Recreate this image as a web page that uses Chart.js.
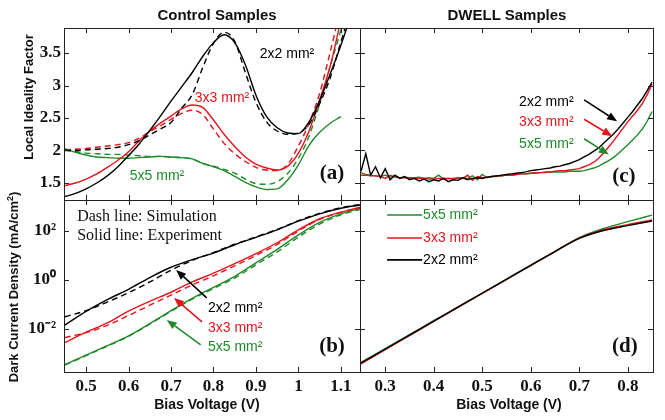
<!DOCTYPE html>
<html>
<head>
<meta charset="utf-8">
<script src="https://cdn.jsdelivr.net/npm/chart.js@4.4.0/dist/chart.umd.min.js"></script>
<style>
  body { margin: 0; background: #fff; }
  #fig { position: relative; width: 665px; height: 420px; overflow: hidden; font-family: "Liberation Sans", Arial, sans-serif; }
  #fig canvas { position: absolute; }
  .lbl { position: absolute; font-weight: bold; color: #111; white-space: nowrap; transform: translate(-50%, -50%); }
  .vert { transform: translate(-50%, -50%) rotate(-90deg); }
</style>
</head>
<body>
<div id="fig">
  <canvas id="chartA" width="362" height="202" style="left:0;top:0"></canvas>
  <canvas id="chartC" width="300" height="202" style="left:358px;top:0"></canvas>
  <canvas id="chartB" width="362" height="222" style="left:0;top:198px"></canvas>
  <canvas id="chartD" width="300" height="222" style="left:358px;top:198px"></canvas>
  <div class="lbl" style="left:217px;top:14px;font-size:15px">Control Samples</div>
  <div class="lbl" style="left:507px;top:14px;font-size:15px">DWELL Samples</div>
  <div class="lbl vert" style="left:28px;top:97px;font-size:13px">Local Ideality Factor</div>
  <div class="lbl vert" style="left:13px;top:287px;font-size:13px">Dark Current Density (mA/cm<sup style="font-size:9px">2</sup>)</div>
  <div class="lbl" style="left:207px;top:404px;font-size:14px">Bias Voltage (V)</div>
  <div class="lbl" style="left:509px;top:404px;font-size:14px">Bias Voltage (V)</div>
</div>
<script>
// ---------- tick values ----------
const controlVoltTicks = [0.5, 0.6, 0.7, 0.8, 0.9, 1.0, 1.1];
const dwellVoltTicks = [0.3, 0.4, 0.5, 0.6, 0.7, 0.8];
const idealityTicks = [1.5, 2, 2.5, 3, 3.5];
const currentTicks = [1e-2, 1, 1e2];

// ---------- (a) local ideality factor, control samples ----------
const aVolt = [0.45, 0.475, 0.5, 0.525, 0.55, 0.575, 0.6, 0.625, 0.65, 0.675, 0.7, 0.725, 0.75, 0.775,
               0.8, 0.825, 0.85, 0.875, 0.9, 0.925, 0.95, 0.975, 1.0, 1.025, 1.05, 1.075, 1.1, 1.125];
const a2x2Exp = [1.29, 1.34, 1.41, 1.50, 1.61, 1.75, 1.92, 2.10, 2.31, 2.53, 2.76, 2.98, 3.20, 3.45,
                 3.66, 3.78, 3.66, 3.32, 2.85, 2.52, 2.35, 2.27, 2.26, 2.44, 2.77, 3.18, 3.62, 4.10];
const a2x2Sim = [2.00, 2.00, 2.01, 2.02, 2.03, 2.05, 2.09, 2.15, 2.24, 2.33, 2.43, 2.65, 2.86, 3.28,
                 3.65, 3.82, 3.68, 3.20, 2.74, 2.44, 2.30, 2.25, 2.27, 2.40, 2.72, 3.12, 3.67, 4.20];
const a3x3Exp = [1.46, 1.50, 1.56, 1.64, 1.74, 1.85, 1.98, 2.15, 2.30, 2.42, 2.53, 2.64, 2.70, 2.66,
                 2.47, 2.25, 2.06, 1.90, 1.79, 1.73, 1.70, 1.76, 1.96, 2.30, 2.78, 3.30, 4.00, 4.60];
const a3x3Sim = [2.01, 2.02, 2.03, 2.05, 2.07, 2.09, 2.12, 2.19, 2.29, 2.38, 2.48, 2.57, 2.62, 2.55,
                 2.33, 2.11, 1.95, 1.83, 1.74, 1.70, 1.69, 1.79, 2.07, 2.42, 2.88, 3.52, 4.20, 4.80];
const a5x5Exp = [2.03, 1.97, 1.93, 1.90, 1.89, 1.88, 1.88, 1.89, 1.90, 1.91, 1.90, 1.89, 1.87, 1.80,
                 1.75, 1.69, 1.60, 1.51, 1.44, 1.40, 1.41, 1.55, 1.78, 2.08, 2.28, 2.42, 2.52, null];
const a5x5Sim = [2.01, 1.98, 1.96, 1.95, 1.94, 1.94, 1.93, 1.92, 1.91, 1.91, 1.90, 1.89, 1.87, 1.80,
                 1.76, 1.71, 1.65, 1.56, 1.49, 1.48, 1.52, 1.65, 1.88, 2.22, 2.72, 3.30, 3.85, 4.40];

// ---------- (b) dark current density (mA/cm2), control samples ----------
const bVolt = [0.45, 0.5, 0.55, 0.6, 0.65, 0.7, 0.75, 0.8, 0.85, 0.9, 0.95, 1.0, 1.05, 1.1, 1.145];
const b2x2Exp = [0.0145, 0.0525, 0.158, 0.417, 1.26, 3.31, 6.76, 12.6, 27.5, 55.0, 112, 251, 501, 851, 1148];
const b2x2Sim = [0.0316, 0.0562, 0.126, 0.302, 0.832, 2.51, 6.31, 13.2, 28.8, 57.5, 117, 263, 525, 891, 1202];
const b3x3Exp = [0.00275, 0.00741, 0.0178, 0.0537, 0.135, 0.316, 0.832, 1.91, 4.68, 12.0, 33.1, 112, 316, 589, 933];
const b3x3Sim = [0.00447, 0.00708, 0.0141, 0.0355, 0.0933, 0.240, 0.631, 1.48, 3.80, 10.0, 28.2, 100, 295, 575, 891];
const b5x5Exp = [0.000355, 0.000851, 0.00209, 0.00525, 0.0166, 0.0562, 0.178, 0.501, 1.41, 5.01, 17.8, 69.2, 224, 501, 832];
const b5x5Sim = [0.000339, 0.000813, 0.00200, 0.00501, 0.0158, 0.0525, 0.166, 0.447, 1.20, 4.17, 14.1, 56.2, 191, 457, 759];

// ---------- (c) local ideality factor, DWELL samples ----------
const cVolt = [0.25, 0.26, 0.27, 0.28, 0.29, 0.30, 0.31, 0.32, 0.33, 0.34,
               0.35, 0.36, 0.37, 0.38, 0.39, 0.40, 0.41, 0.42, 0.43, 0.44,
               0.45, 0.46, 0.47, 0.48, 0.49, 0.50, 0.51, 0.52, 0.53, 0.54,
               0.55, 0.56, 0.57, 0.58, 0.59, 0.60, 0.61, 0.62, 0.63, 0.64,
               0.65, 0.66, 0.67, 0.68, 0.69, 0.70, 0.71, 0.72, 0.73, 0.74,
               0.75, 0.76, 0.77, 0.78, 0.79, 0.80, 0.81, 0.82, 0.83, 0.84, 0.85];
const c2x2 = [1.68, 1.95, 1.62, 1.75, 1.58, 1.72, 1.55, 1.62, 1.57, 1.60,
              1.55, 1.57, 1.53, 1.56, 1.52, 1.55, 1.53, 1.57, 1.52, 1.55,
              1.54, 1.58, 1.55, 1.57, 1.58, 1.57, 1.59, 1.60, 1.61, 1.62,
              1.63, 1.64, 1.65, 1.66, 1.67, 1.69, 1.70, 1.71, 1.72, 1.73,
              1.75, 1.76, 1.78, 1.80, 1.83, 1.86, 1.90, 1.94, 1.99, 2.04,
              2.11, 2.18, 2.25, 2.33, 2.42, 2.51, 2.60, 2.70, 2.80, 2.92, 3.05];
const c3x3 = [1.62, 1.62, 1.61, 1.61, 1.60, 1.57, 1.62, 1.59, 1.58, 1.58,
              1.57, 1.57, 1.57, 1.57, 1.56, 1.56, 1.57, 1.57, 1.57, 1.57,
              1.58, 1.57, 1.62, 1.54, 1.60, 1.58, 1.59, 1.60, 1.61, 1.61,
              1.62, 1.62, 1.63, 1.64, 1.64, 1.65, 1.66, 1.66, 1.67, 1.67,
              1.68, 1.69, 1.69, 1.70, 1.71, 1.72, 1.75, 1.78, 1.82, 1.88,
              1.96, 2.05, 2.14, 2.24, 2.34, 2.44, 2.53, 2.62, 2.72, 2.86, 3.02];
const c5x5 = [1.66, 1.63, 1.62, 1.61, 1.60, 1.62, 1.59, 1.61, 1.58, 1.59,
              1.58, 1.58, 1.59, 1.57, 1.58, 1.57, 1.62, 1.56, 1.57, 1.56,
              1.57, 1.58, 1.57, 1.61, 1.55, 1.63, 1.58, 1.60, 1.60, 1.61,
              1.62, 1.62, 1.63, 1.64, 1.64, 1.65, 1.65, 1.66, 1.66, 1.67,
              1.67, 1.67, 1.67, 1.68, 1.68, 1.68, 1.69, 1.71, 1.73, 1.76,
              1.80, 1.84, 1.89, 1.95, 2.02, 2.09, 2.16, 2.24, 2.33, 2.45, 2.60];

// ---------- (d) dark current density (mA/cm2), DWELL samples ----------
const dVolt = [0.25, 0.3, 0.35, 0.4, 0.45, 0.5, 0.55, 0.6, 0.65, 0.7, 0.75, 0.8, 0.85];
const d2x2 = [4.07e-4, 1.51e-3, 5.62e-3, 2.09e-2, 7.76e-2, 0.288, 1.07, 3.98, 14.5, 50.1, 105, 166, 257];
const d3x3 = [3.80e-4, 1.45e-3, 5.37e-3, 2.04e-2, 7.59e-2, 0.282, 1.05, 3.89, 14.5, 51.3, 112, 182, 282];
const d5x5 = [4.37e-4, 1.58e-3, 5.89e-3, 2.19e-2, 7.94e-2, 0.295, 1.10, 4.07, 14.8, 53.7, 126, 240, 447];

const SANS = '"Liberation Sans", Arial, sans-serif';
const SERIF = '"Liberation Serif", "Times New Roman", serif';
const BLACK = '#000000', RED = '#e3141b', GREEN = '#1f8a2a';
const tickFont = { family: SERIF, weight: 'bold', size: 17 };
const supers = { '-': '\u207B', '0': '\u2070', '1': '\u00B9', '2': '\u00B2', '3': '\u00B3', '4': '\u2074' };

function series(label, xs, ys, color, dashed, smooth) {
    return {
        label: label,
        data: xs.map(function(v, i) { return { x: v, y: ys[i] }; }),
        borderColor: color,
        borderWidth: 1.4,
        borderDash: dashed ? [6, 4] : [],
        pointRadius: 0,
        cubicInterpolationMode: smooth ? 'monotone' : 'default',
        tension: 0,
        fill: false
    };
}

function drawArrow(ctx, x0, y0, x1, y1, color) {
    const ang = Math.atan2(y1 - y0, x1 - x0);
    const head = 10, half = 4;
    ctx.strokeStyle = color;
    ctx.fillStyle = color;
    ctx.lineWidth = 1.6;
    ctx.beginPath();
    ctx.moveTo(x0, y0);
    ctx.lineTo(x1 - head * Math.cos(ang), y1 - head * Math.sin(ang));
    ctx.stroke();
    ctx.beginPath();
    ctx.moveTo(x1, y1);
    ctx.lineTo(x1 - head * Math.cos(ang) + half * Math.sin(ang), y1 - head * Math.sin(ang) - half * Math.cos(ang));
    ctx.lineTo(x1 - head * Math.cos(ang) - half * Math.sin(ang), y1 - head * Math.sin(ang) + half * Math.cos(ang));
    ctx.closePath();
    ctx.fill();
}

// box around the plot area with inward tick marks on all four sides
const framePlugin = {
    id: 'frame',
    afterDraw: function(chart) {
        const ctx = chart.ctx, a = chart.chartArea;
        const xs = chart.scales.x, ys = chart.scales.y;
        ctx.save();
        ctx.strokeStyle = '#222';
        ctx.lineWidth = 1;
        ctx.strokeRect(a.left + 0.5, a.top + 0.5, a.right - a.left, a.bottom - a.top);
        ctx.beginPath();
        xs.ticks.forEach(function(t) {
            const px = Math.round(xs.getPixelForValue(t.value)) + 0.5;
            ctx.moveTo(px, a.bottom); ctx.lineTo(px, a.bottom - 5);
            ctx.moveTo(px, a.top); ctx.lineTo(px, a.top + 5);
        });
        ys.ticks.forEach(function(t) {
            const py = Math.round(ys.getPixelForValue(t.value)) + 0.5;
            ctx.moveTo(a.left, py); ctx.lineTo(a.left + 5, py);
            ctx.moveTo(a.right, py); ctx.lineTo(a.right - 5, py);
        });
        ctx.stroke();
        ctx.restore();
    }
};

// labels, arrows and the small legend, placed in data coordinates
const notePlugin = {
    id: 'notes',
    afterDatasetsDraw: function(chart, args, opts) {
        const ctx = chart.ctx, xs = chart.scales.x, ys = chart.scales.y;
        ctx.save();
        (opts.arrows || []).forEach(function(ar) {
            drawArrow(ctx, xs.getPixelForValue(ar.from[0]), ys.getPixelForValue(ar.from[1]),
                      xs.getPixelForValue(ar.to[0]), ys.getPixelForValue(ar.to[1]), ar.color);
        });
        (opts.texts || []).forEach(function(t) {
            ctx.font = t.font || ('14px ' + SANS);
            ctx.fillStyle = t.color || '#111';
            ctx.textAlign = t.align || 'left';
            ctx.textBaseline = 'middle';
            ctx.fillText(t.text, xs.getPixelForValue(t.at[0]), ys.getPixelForValue(t.at[1]));
        });
        if (opts.legend) {
            const lg = opts.legend;
            lg.rows.forEach(function(row) {
                const ds = chart.data.datasets[row.ds];
                const py = ys.getPixelForValue(row.y);
                ctx.strokeStyle = ds.borderColor;
                ctx.lineWidth = 1.6;
                ctx.beginPath();
                ctx.moveTo(xs.getPixelForValue(lg.from), py);
                ctx.lineTo(xs.getPixelForValue(lg.to), py);
                ctx.stroke();
                ctx.font = '14px ' + SANS;
                ctx.fillStyle = ds.borderColor;
                ctx.textAlign = 'left';
                ctx.textBaseline = 'middle';
                ctx.fillText(ds.label, xs.getPixelForValue(lg.to) + 1, py);
            });
        }
        ctx.restore();
    }
};

function fixSize(size, horizontal) {
    return function(scale) {
        if (horizontal) scale.height = size; else scale.width = size;
        scale.paddingTop = 0; scale.paddingBottom = 0;
        scale.paddingLeft = 0; scale.paddingRight = 0;
    };
}

function logLabel(v) {
    const e = String(Math.round(Math.log10(v)));
    return '10' + e.split('').map(function(c) { return supers[c]; }).join('');
}

function makePanel(id, datasets, cfg) {
    return new Chart(document.getElementById(id), {
        type: 'line',
        data: { datasets: datasets },
        options: {
            responsive: false,
            animation: false,
            layout: { padding: cfg.padding },
            plugins: {
                legend: { display: false },
                tooltip: { enabled: false },
                notes: cfg.notes
            },
            scales: {
                x: {
                    type: 'linear',
                    min: cfg.xMin, max: cfg.xMax,
                    display: cfg.showX,
                    grid: { display: false, drawTicks: false },
                    border: { display: false },
                    ticks: { font: tickFont, color: '#111', padding: 4, maxRotation: 0, autoSkip: false,
                             callback: function(v) { return String(v); } },
                    afterBuildTicks: function(s) { s.ticks = cfg.xTicks.map(function(v) { return { value: v }; }); },
                    afterFit: fixSize(cfg.showX ? 48 : 0, true)
                },
                y: {
                    type: cfg.log ? 'logarithmic' : 'linear',
                    min: cfg.yMin, max: cfg.yMax,
                    display: cfg.showY,
                    grid: { display: false, drawTicks: false },
                    border: { display: false },
                    ticks: { font: tickFont, color: '#111', padding: cfg.log ? 8 : 3, autoSkip: false,
                             callback: function(v) { return cfg.log ? logLabel(v) : String(v); } },
                    afterBuildTicks: function(s) { s.ticks = cfg.yTicks.map(function(v) { return { value: v }; }); },
                    afterFit: fixSize(cfg.showY ? 64 : 0, false)
                }
            }
        },
        plugins: [framePlugin, notePlugin]
    });
}

const panelFont = 'bold 21px ' + SERIF;

// (a)
makePanel('chartA', [
    series('2x2 mm\u00B2', aVolt, a2x2Exp, BLACK, false, true),
    series('2x2 sim', aVolt, a2x2Sim, BLACK, true, true),
    series('3x3 mm\u00B2', aVolt, a3x3Exp, RED, false, true),
    series('3x3 sim', aVolt, a3x3Sim, RED, true, true),
    series('5x5 mm\u00B2', aVolt, a5x5Exp, GREEN, false, true),
    series('5x5 sim', aVolt, a5x5Sim, GREEN, true, true)
], {
    padding: { left: 0, top: 28, right: 2, bottom: 2 },
    xMin: 0.448, xMax: 1.145, xTicks: controlVoltTicks, showX: false,
    yMin: 1.238, yMax: 3.885, yTicks: idealityTicks, showY: true, log: false,
    notes: {
        texts: [
            { text: '2x2 mm\u00B2', at: [0.909, 3.48], color: BLACK },
            { text: '3x3 mm\u00B2', at: [0.756, 2.80], color: RED },
            { text: '5x5 mm\u00B2', at: [0.603, 1.60], color: GREEN },
            { text: '(a)', at: [1.079, 1.65], font: panelFont, align: 'center', color: '#111' }
        ]
    }
});

// (c)
makePanel('chartC', [
    series('2x2 mm\u00B2', cVolt, c2x2, BLACK, false, false),
    series('3x3 mm\u00B2', cVolt, c3x3, RED, false, false),
    series('5x5 mm\u00B2', cVolt, c5x5, GREEN, false, false)
], {
    padding: { left: 2, top: 28, right: 5, bottom: 2 },
    xMin: 0.248, xMax: 0.852, xTicks: dwellVoltTicks, showX: false,
    yMin: 1.238, yMax: 3.885, yTicks: idealityTicks, showY: false, log: false,
    notes: {
        texts: [
            { text: '2x2 mm\u00B2', at: [0.576, 2.75], color: BLACK },
            { text: '3x3 mm\u00B2', at: [0.576, 2.43], color: RED },
            { text: '5x5 mm\u00B2', at: [0.576, 2.09], color: GREEN },
            { text: '(c)', at: [0.792, 1.60], font: panelFont, align: 'center', color: '#111' }
        ],
        arrows: [
            { from: [0.710, 2.78], to: [0.778, 2.45], color: BLACK },
            { from: [0.710, 2.48], to: [0.768, 2.22], color: RED },
            { from: [0.710, 2.18], to: [0.761, 1.94], color: GREEN }
        ]
    }
});

// (b)
makePanel('chartB', [
    series('2x2 mm\u00B2', bVolt, b2x2Exp, BLACK, false, true),
    series('2x2 sim', bVolt, b2x2Sim, BLACK, true, true),
    series('3x3 mm\u00B2', bVolt, b3x3Exp, RED, false, true),
    series('3x3 sim', bVolt, b3x3Sim, RED, true, true),
    series('5x5 mm\u00B2', bVolt, b5x5Exp, GREEN, false, true),
    series('5x5 sim', bVolt, b5x5Sim, GREEN, true, true)
], {
    padding: { left: 0, top: 2, right: 2, bottom: 0 },
    xMin: 0.448, xMax: 1.145, xTicks: controlVoltTicks, showX: true,
    yMin: 1.76e-4, yMax: 1840, yTicks: currentTicks, showY: true, log: true,
    notes: {
        texts: [
            { text: 'Dash line: Simulation', at: [0.479, 372], font: '16px ' + SERIF, color: '#111' },
            { text: 'Solid line: Experiment', at: [0.479, 63], font: '16px ' + SERIF, color: '#111' },
            { text: '2x2 mm\u00B2', at: [0.787, 0.072], color: BLACK },
            { text: '3x3 mm\u00B2', at: [0.787, 0.011], color: RED },
            { text: '5x5 mm\u00B2', at: [0.787, 0.00186], color: GREEN },
            { text: '(b)', at: [1.079, 0.00186], font: panelFont, align: 'center', color: '#111' }
        ],
        arrows: [
            { from: [0.784, 0.186], to: [0.712, 2.57], color: BLACK },
            { from: [0.773, 0.0195], to: [0.707, 0.186], color: RED },
            { from: [0.770, 0.00224], to: [0.690, 0.0234], color: GREEN }
        ]
    }
});

// (d)
makePanel('chartD', [
    series('2x2 mm\u00B2', dVolt, d2x2, BLACK, false, true),
    series('3x3 mm\u00B2', dVolt, d3x3, RED, false, true),
    series('5x5 mm\u00B2', dVolt, d5x5, GREEN, false, true)
], {
    padding: { left: 2, top: 2, right: 5, bottom: 0 },
    xMin: 0.248, xMax: 0.852, xTicks: dwellVoltTicks, showX: true,
    yMin: 1.76e-4, yMax: 1840, yTicks: currentTicks, showY: false, log: true,
    notes: {
        texts: [
            { text: '(d)', at: [0.794, 0.00186], font: panelFont, align: 'center', color: '#111' }
        ],
        legend: { from: 0.304, to: 0.376, rows: [{ ds: 2, y: 447 }, { ds: 1, y: 51.8 }, { ds: 0, y: 6.6 }] }
    }
});
</script>
</body>
</html>
